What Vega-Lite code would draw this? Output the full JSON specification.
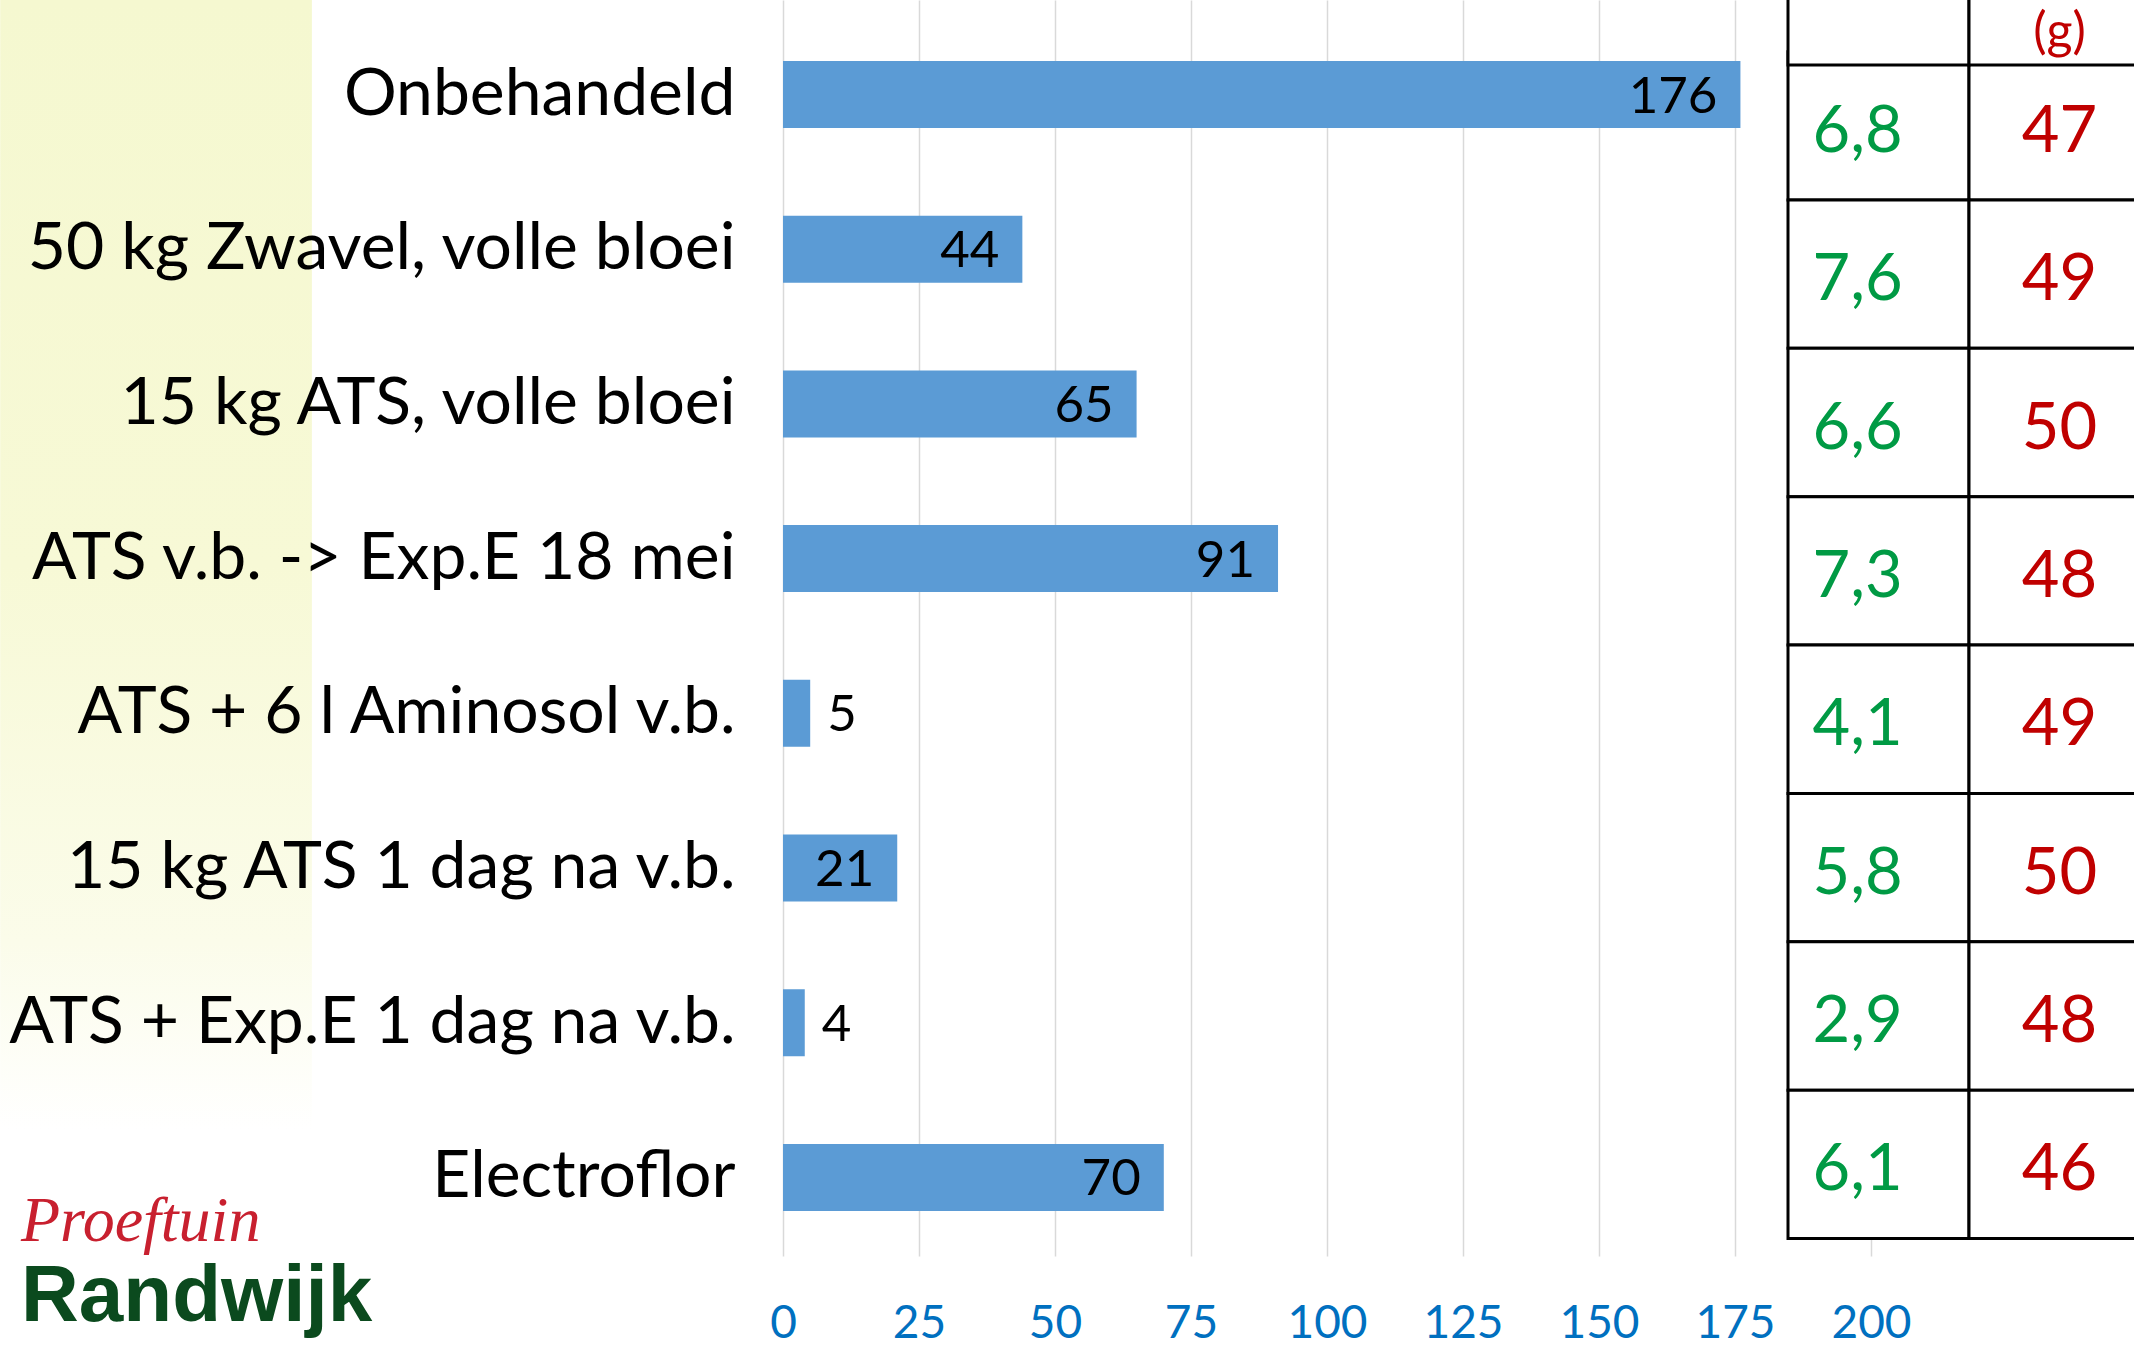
{
  "$schema": "https://vega.github.io/schema/vega-lite/v6.json",
  "width": 1351,
  "height": 1256,
  "autosize": {"type": "none"},
  "padding": {"left": 783, "top": 0, "right": 0, "bottom": 91},
  "background": "white",
  "config": {
    "view": {"stroke": null},
    "font": "Lato",
    "locale": {"number": {"decimal": ",", "thousands": ".", "grouping": [3], "currency": ["€ ", ""]}}
  },
  "datasets": {
    "proef": [
      {"behandeling": "Onbehandeld", "aantastingen": 176, "aantal": 6.8, "gewicht": 47},
      {"behandeling": "50 kg Zwavel, volle bloei", "aantastingen": 44, "aantal": 7.6, "gewicht": 49},
      {"behandeling": "15 kg ATS, volle bloei", "aantastingen": 65, "aantal": 6.6, "gewicht": 50},
      {"behandeling": "ATS v.b. -> Exp.E 18 mei", "aantastingen": 91, "aantal": 7.3, "gewicht": 48},
      {"behandeling": "ATS + 6 l Aminosol v.b.", "aantastingen": 5, "aantal": 4.1, "gewicht": 49},
      {"behandeling": "15 kg ATS 1 dag na v.b.", "aantastingen": 21, "aantal": 5.8, "gewicht": 50},
      {"behandeling": "ATS + Exp.E 1 dag na v.b.", "aantastingen": 4, "aantal": 2.9, "gewicht": 48},
      {"behandeling": "Electroflor", "aantastingen": 70, "aantal": 6.1, "gewicht": 46}
    ],
    "kop": [
      {"col": "aantal", "kop": ""},
      {"col": "gewicht", "kop": "(g)"}
    ]
  },
  "title": {
    "text": "Proeftuin",
    "subtitle": "Randwijk",
    "orient": "bottom",
    "anchor": "start",
    "frame": "group",
    "offset": 0,
    "dx": -762,
    "dy": -156,
    "font": "Liberation Serif",
    "fontStyle": "italic",
    "fontWeight": "normal",
    "fontSize": 64,
    "color": "#C8202F",
    "subtitleFont": "Liberation Sans",
    "subtitleFontWeight": "bold",
    "subtitleFontSize": 80,
    "subtitleColor": "#0B4A1E",
    "subtitlePadding": 4
  },
  "layer": [
    {
      "layer": [
        {
          "data": {"values": [{"band": "achtergrond"}]},
          "mark": {
            "type": "rect",
            "color": {
              "gradient": "linear", "x1": 0, "y1": 0, "x2": 0, "y2": 1,
              "stops": [
                {"offset": 0, "color": "#F5F8D0"},
                {"offset": 0.45, "color": "#F7F9D6"},
                {"offset": 0.75, "color": "#FBFCEA"},
                {"offset": 0.9, "color": "#FFFFFF"}
              ]
            }
          },
          "encoding": {
            "x": {"datum": -143.9, "type": "quantitative"},
            "x2": {"datum": -86.6}
          }
        },
        {
          "data": {"name": "proef"},
          "mark": {"type": "bar", "color": "#5B9BD5"},
          "encoding": {
            "y": {
              "field": "behandeling", "type": "nominal", "sort": null,
              "scale": {
                "domain": ["Onbehandeld", "50 kg Zwavel, volle bloei", "15 kg ATS, volle bloei", "ATS v.b. -> Exp.E 18 mei", "ATS + 6 l Aminosol v.b.", "15 kg ATS 1 dag na v.b.", "ATS + Exp.E 1 dag na v.b.", "Electroflor"],
                "paddingInner": 0.567, "paddingOuter": 0.343, "align": 0.575
              },
              "axis": {
                "title": null, "domain": false, "ticks": false, "grid": false,
                "labelFont": "Lato", "labelFontSize": 66, "labelColor": "#000000",
                "labelPadding": 48, "labelLimit": 1000, "zindex": 1
              }
            },
            "x": {
              "field": "aantastingen", "type": "quantitative",
              "scale": {"domain": [0, 248.35], "nice": false, "zero": true},
              "axis": {
                "title": null, "values": [0, 25, 50, 75, 100, 125, 150, 175, 200],
                "domain": false, "ticks": false, "grid": true, "labelFlush": false,
                "gridColor": "#D9D9D9", "gridWidth": 1.5,
                "labelFont": "Lato", "labelFontSize": 46, "labelColor": "#0070C0",
                "labelPadding": 45
              }
            }
          }
        },
        {
          "data": {"name": "proef"},
          "transform": [{"filter": "datum.aantastingen >= 10"}],
          "mark": {"type": "text", "align": "right", "baseline": "middle", "dx": -23, "yOffset": 3, "fontSize": 51, "color": "#000000"},
          "encoding": {
            "y": {"field": "behandeling", "type": "nominal", "sort": null},
            "x": {"field": "aantastingen", "type": "quantitative"},
            "text": {"field": "aantastingen", "type": "quantitative"}
          }
        },
        {
          "data": {"name": "proef"},
          "transform": [{"filter": "datum.aantastingen < 10"}],
          "mark": {"type": "text", "align": "left", "baseline": "middle", "dx": 17, "yOffset": 3, "fontSize": 51, "color": "#000000"},
          "encoding": {
            "y": {"field": "behandeling", "type": "nominal", "sort": null},
            "x": {"field": "aantastingen", "type": "quantitative"},
            "text": {"field": "aantastingen", "type": "quantitative"}
          }
        }
      ]
    },
    {
      "data": {"name": "proef"},
      "layer": [
        {
          "transform": [{"fold": ["aantal", "gewicht"], "as": ["col", "v"]}],
          "mark": {"type": "rect", "fill": "#FFFFFF", "stroke": "#000000", "strokeWidth": 3},
          "encoding": {
            "x": {
              "field": "col", "type": "nominal",
              "scale": {"domain": ["aantal", "gewicht"], "range": [1005, 1367], "paddingInner": 0, "paddingOuter": 0},
              "axis": null
            },
            "y": {
              "field": "behandeling", "type": "nominal",
              "scale": {
                "domain": ["kop", "Onbehandeld", "50 kg Zwavel, volle bloei", "15 kg ATS, volle bloei", "ATS v.b. -> Exp.E 18 mei", "ATS + 6 l Aminosol v.b.", "15 kg ATS 1 dag na v.b.", "ATS + Exp.E 1 dag na v.b.", "Electroflor"],
                "range": [-96.7, 1238.5], "paddingInner": 0, "paddingOuter": 0
              },
              "axis": null
            }
          }
        },
        {
          "data": {"name": "kop"},
          "mark": {"type": "rect", "fill": "#FFFFFF", "stroke": "#000000", "strokeWidth": 3, "yOffset": 13.3},
          "encoding": {
            "x": {"field": "col", "type": "nominal"},
            "y": {"datum": "kop", "type": "nominal"}
          }
        },
        {
          "transform": [{"fold": ["aantal", "gewicht"], "as": ["col", "v"]}, {"filter": "datum.col === 'aantal'"}],
          "mark": {"type": "text", "align": "left", "baseline": "middle", "dx": -66, "yOffset": 6, "fontSize": 65, "color": "#009A44"},
          "encoding": {
            "x": {"field": "col", "type": "nominal"},
            "y": {"field": "behandeling", "type": "nominal"},
            "text": {"field": "v", "type": "quantitative", "format": ".1f"}
          }
        },
        {
          "transform": [{"fold": ["aantal", "gewicht"], "as": ["col", "v"]}, {"filter": "datum.col === 'gewicht'"}],
          "mark": {"type": "text", "align": "center", "baseline": "middle", "yOffset": 6, "fontSize": 65, "color": "#C00000"},
          "encoding": {
            "x": {"field": "col", "type": "nominal"},
            "y": {"field": "behandeling", "type": "nominal"},
            "text": {"field": "v", "type": "quantitative", "format": "d"}
          }
        },
        {
          "data": {"name": "kop"},
          "mark": {"type": "text", "align": "center", "baseline": "middle", "yOffset": 56, "fontSize": 50, "color": "#C00000"},
          "encoding": {
            "x": {"field": "col", "type": "nominal"},
            "y": {"datum": "kop", "type": "nominal"},
            "text": {"field": "kop", "type": "nominal"}
          }
        }
      ]
    }
  ],
  "resolve": {"scale": {"x": "independent", "y": "independent"}}
}
